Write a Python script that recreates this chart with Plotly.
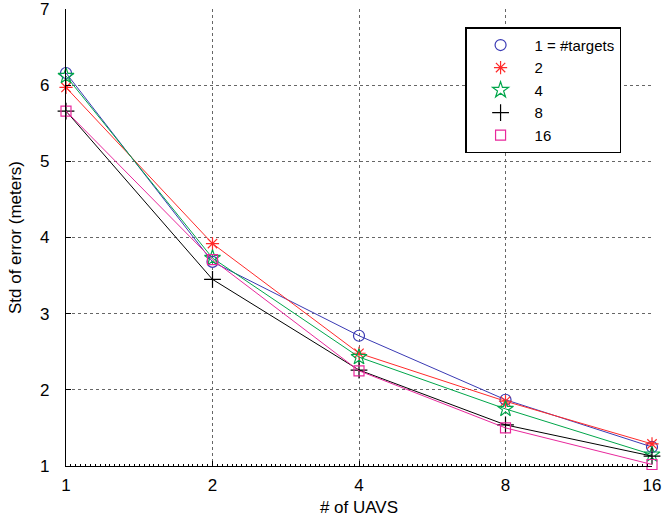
import plotly.graph_objects as go

# Number of UAVs (x) and std of position error for each target count
uavs = [1, 2, 4, 8, 16]
tick_labels = ["1", "2", "4", "8", "16"]
series_names = ["1 = #targets", "2", "4", "8", "16"]

err_t1 = [6.16, 3.68, 2.71, 1.87, 1.25]
err_t2 = [5.97, 3.92, 2.48, 1.85, 1.29]
err_t4 = [6.12, 3.73, 2.43, 1.75, 1.15]
err_t8 = [5.66, 3.45, 2.26, 1.54, 1.13]
err_t16 = [5.66, 3.71, 2.25, 1.50, 1.02]

series = [err_t1, err_t2, err_t4, err_t8, err_t16]
colors = ["#3a3ab4", "#ff2a2a", "#00a64a", "#000000", "#e8289c"]
symbols = ["circle-open", "asterisk-open", "star-open", "cross-thin-open", "square-open"]
sizes = [11, 11, 12, 12, 10]

FONT = "Liberation Sans, Arial, Helvetica, sans-serif"

fig = go.Figure()
for vals, col, sym, sz in zip(series, colors, symbols, sizes):
    fig.add_trace(go.Scatter(
        x=uavs, y=vals, mode="lines+markers", showlegend=False,
        line=dict(color=col, width=1),
        marker=dict(symbol=sym, size=sz, color=col, line=dict(color=col, width=1.2)),
        cliponaxis=False,
    ))
# legend entries show the marker only
for name, col, sym, sz in zip(series_names, colors, symbols, sizes):
    fig.add_trace(go.Scatter(
        x=[None], y=[None], mode="markers", name=name,
        marker=dict(symbol=sym, size=sz, color=col, line=dict(color=col, width=1.2)),
    ))

axis_common = dict(
    showline=True, linecolor="black", linewidth=1.2, mirror=False,
    ticks="inside", ticklen=5, tickcolor="black",
    showgrid=True, gridcolor="#666666", griddash="dot", gridwidth=1,
    zeroline=False, automargin=False, ticklabeloverflow="allow",
    tickfont=dict(family=FONT, size=17, color="black"),
)

fig.update_layout(
    width=672, height=523,
    margin=dict(l=66, r=20, t=9, b=57),
    paper_bgcolor="white", plot_bgcolor="white",
    font=dict(family=FONT, color="black"),
    xaxis=dict(
        type="log", range=[0, 1.20412], tickvals=uavs, ticktext=tick_labels,
        ticklabelstandoff=3,
        title=dict(text="# of UAVS", font=dict(family=FONT, size=17), standoff=7),
        minor=dict(ticks="inside", ticklen=2, tickcolor="black", showgrid=False,
                   tick0=0, dtick=0.30103 / 30),
        **axis_common,
    ),
    yaxis=dict(
        range=[1, 7], tickvals=[1, 2, 3, 4, 5, 6, 7],
        ticklabelstandoff=12,
        title=dict(text="Std of error (meters)", font=dict(family=FONT, size=17), standoff=14),
        **axis_common,
    ),
    legend=dict(
        x=0.681, y=0.96, xanchor="left", yanchor="top",
        bgcolor="white", bordercolor="black", borderwidth=1.5,
        font=dict(family=FONT, size=15, color="black"),
        itemwidth=58, entrywidth=165,
    ),
)

fig.write_html("out.html")
